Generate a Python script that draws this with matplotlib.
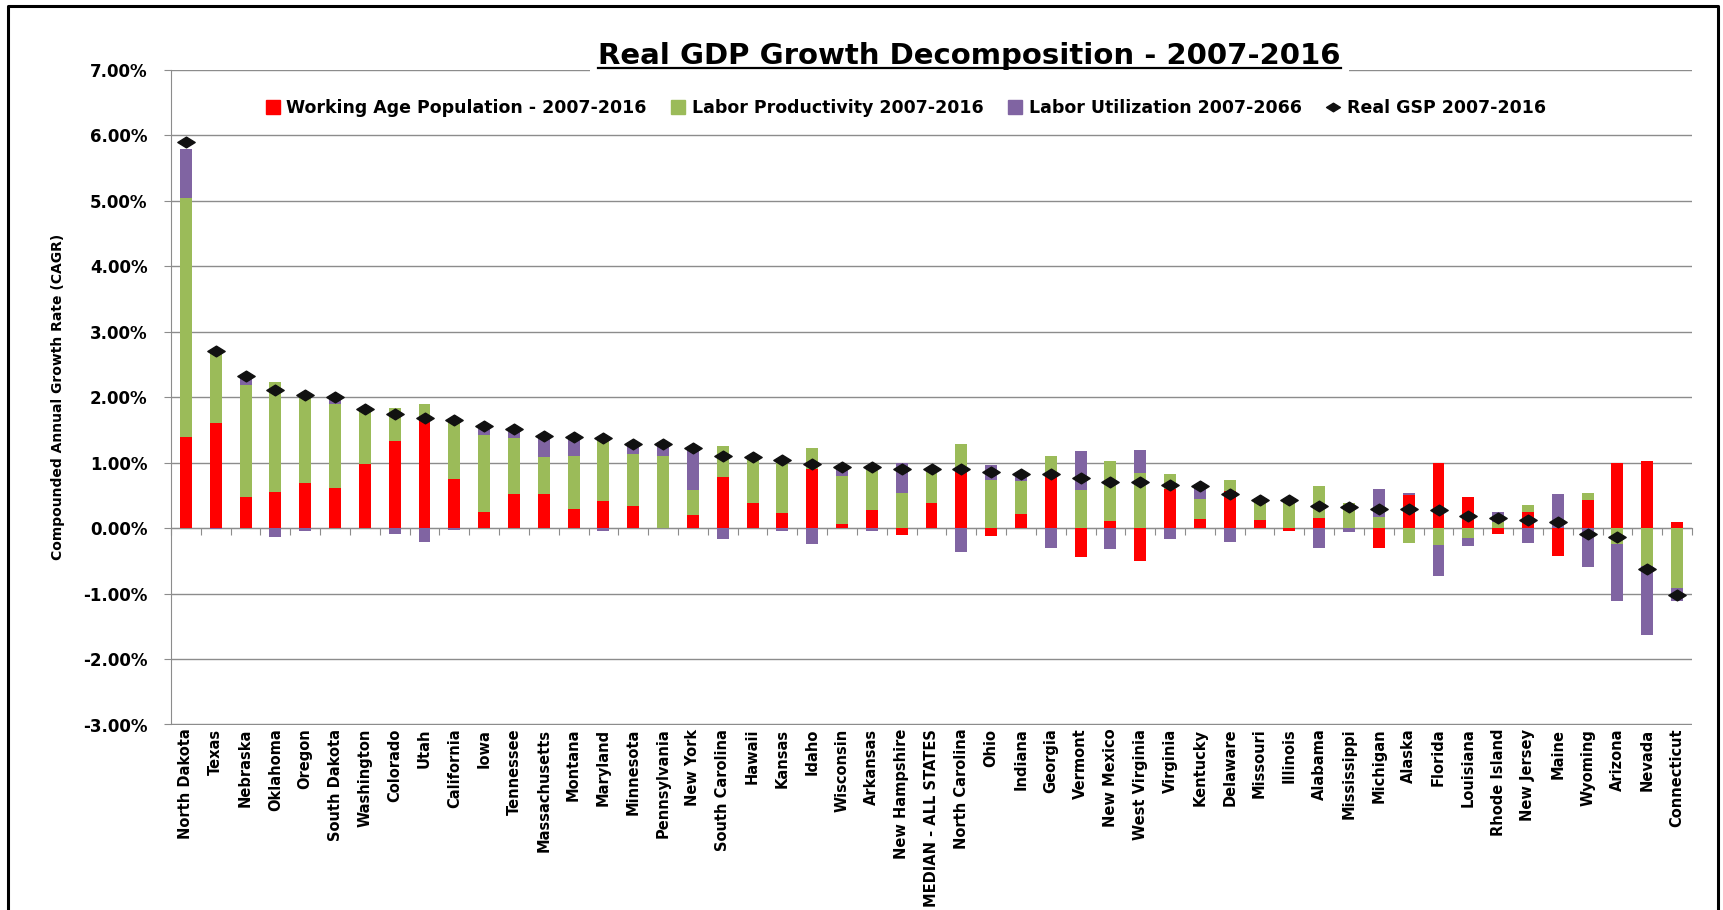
import numpy as np
import matplotlib
matplotlib.use("Agg")
import matplotlib.pyplot as plt
from matplotlib.lines import Line2D
from matplotlib.path import Path
from matplotlib.ticker import FuncFormatter

# data (percent, CAGR 2007-2016)
states = ["North Dakota", "Texas", "Nebraska", "Oklahoma", "Oregon", "South Dakota",
          "Washington", "Colorado", "Utah", "California", "Iowa", "Tennessee",
          "Massachusetts", "Montana", "Maryland", "Minnesota", "Pennsylvania",
          "New York", "South Carolina", "Hawaii", "Kansas", "Idaho", "Wisconsin",
          "Arkansas", "New Hampshire", "MEDIAN - ALL STATES", "North Carolina",
          "Ohio", "Indiana", "Georgia", "Vermont", "New Mexico", "West Virginia",
          "Virginia", "Kentucky", "Delaware", "Missouri", "Illinois", "Alabama",
          "Mississippi", "Michigan", "Alaska", "Florida", "Louisiana", "Rhode Island",
          "New Jersey", "Maine", "Wyoming", "Arizona", "Nevada", "Connecticut"]

work_pop = [1.39, 1.61, 0.47, 0.55, 0.69, 0.61, 0.98, 1.33, 1.66, 0.75, 0.25, 0.52,
            0.52, 0.30, 0.42, 0.34, 0.00, 0.20, 0.78, 0.38, 0.23, 0.90, 0.06,
            0.27, -0.11, 0.39, 0.88, -0.12, 0.22, 0.80, -0.44, 0.11, -0.50,
            0.60, 0.14, 0.56, 0.12, -0.05, 0.16, 0.00, -0.30, 0.51, 1.00, 0.48,
            -0.09, 0.24, -0.42, 0.43, 1.00, 1.03, 0.10]
labor_prod = [3.66, 1.06, 1.71, 1.69, 1.33, 1.28, 0.83, 0.50, 0.23, 0.88, 1.17, 0.85,
              0.56, 0.80, 0.92, 0.79, 1.10, 0.38, 0.48, 0.70, 0.80, 0.32, 0.74,
              0.67, 0.53, 0.50, 0.40, 0.74, 0.50, 0.31, 0.58, 0.91, 0.84,
              0.22, 0.30, 0.17, 0.31, 0.40, 0.49, 0.39, 0.17, -0.23, -0.26, -0.15,
              0.10, 0.11, 0.00, 0.10, -0.24, -0.58, -0.91]
labor_util = [0.75, -0.02, 0.13, -0.14, -0.05, 0.10, 0.00, -0.09, -0.21, -0.03, 0.10, 0.10,
              0.29, 0.27, -0.05, 0.15, 0.15, 0.61, -0.17, 0.00, -0.05, -0.24, 0.14,
              -0.05, 0.47, 0.00, -0.37, 0.23, 0.08, -0.30, 0.60, -0.32, 0.36,
              -0.16, 0.17, -0.21, 0.00, 0.05, -0.31, -0.06, 0.43, 0.03, -0.47, -0.13,
              0.15, -0.23, 0.52, -0.60, -0.87, -1.05, -0.20]
real_gsp = [5.90, 2.70, 2.33, 2.11, 2.03, 2.00, 1.82, 1.75, 1.68, 1.66, 1.56, 1.51,
            1.41, 1.39, 1.37, 1.29, 1.28, 1.22, 1.10, 1.08, 1.04, 0.98, 0.94,
            0.94, 0.91, 0.90, 0.90, 0.86, 0.83, 0.82, 0.76, 0.70, 0.70,
            0.66, 0.64, 0.52, 0.43, 0.43, 0.34, 0.33, 0.30, 0.30, 0.28, 0.19,
            0.15, 0.12, 0.09, -0.09, -0.13, -0.62, -1.02]

series_names = ["Working Age Population - 2007-2016", "Labor Productivity 2007-2016",
                "Labor Utilization 2007-2066", "Real GSP 2007-2016"]
colors = ["#FF0000", "#9BBB59", "#8064A2"]
grey = "#8c8c8c"

plt.rcParams["font.family"] = ["DejaVu Sans"]
plt.rcParams["font.weight"] = "bold"

W, H = 1723, 910
fig = plt.figure(figsize=(W / 100, H / 100), dpi=100)
ax = fig.add_axes([171 / W, 1 - 724.5 / H, (1692 - 171) / W, (724.5 - 70) / H])

x = np.arange(len(states))
pos = np.zeros(len(states))
neg = np.zeros(len(states))
for vals, col in zip([work_pop, labor_prod, labor_util], colors):
    v = np.array(vals)
    bottom = np.where(v >= 0, pos, neg)
    ax.bar(x, v, width=0.4, bottom=bottom, color=col, linewidth=0, zorder=2)
    pos += np.where(v >= 0, v, 0)
    neg += np.where(v < 0, v, 0)

diamond = Path([(-1, 0), (0, 0.62), (1, 0), (0, -0.62), (-1, 0)],
               [Path.MOVETO, Path.LINETO, Path.LINETO, Path.LINETO, Path.CLOSEPOLY])
ax.plot(x, real_gsp, ls="none", marker=diamond, ms=12.5, color="#111111", zorder=5)

ax.set_xlim(-0.5, len(states) - 0.5)
ax.set_ylim(-3, 7)
ax.set_yticks(np.arange(-3, 8, 1))
ax.yaxis.set_major_formatter(FuncFormatter(lambda v, p: "%.2f%%" % v))
ax.grid(axis="y", color=grey, lw=1)
ax.set_axisbelow(True)
for s in ["top", "right", "bottom"]:
    ax.spines[s].set_visible(False)
ax.spines["left"].set_color(grey)
ax.tick_params(axis="y", length=5, color=grey, pad=12, labelsize=12)
ax.set_xticks(x)
ax.set_xticklabels(states, rotation=90, fontweight="bold")
ax.tick_params(axis="x", length=0, pad=3, labelsize=10.5)

# category axis crossing at zero
sec = ax.secondary_xaxis(0.3)
sec.set_xticks(np.arange(-0.5, len(states), 1))
sec.tick_params(length=5, color=grey, labelbottom=False, labeltop=False)
sec.spines["bottom"].set_color(grey)

handles = [Line2D([], [], ls="none", marker="s", ms=10, color=c) for c in colors]
handles.append(Line2D([], [], ls="none", marker=diamond, ms=10, color="#111111"))
ax.legend(handles, series_names, loc="center", bbox_to_anchor=(0.483, 0.942),
          ncol=4, frameon=False, fontsize=12.5, handlelength=0.8,
          handletextpad=0.4, columnspacing=1.4)

fig.text(58 / W, 1 - 397 / H, "Compounded Annual Growth Rate (CAGR)", rotation=90,
         ha="center", va="center", fontsize=10, fontweight="bold")

title = fig.text(969.5 / W, 1 - 64 / H, "Real GDP Growth Decomposition - 2007-2016",
                 ha="center", va="baseline", fontsize=21, fontweight="bold",
                 bbox=dict(facecolor="white", edgecolor="none", pad=6))
fig.canvas.draw()
bb = title.get_window_extent()
fig.add_artist(Line2D([bb.x0 / W, bb.x1 / W], [1 - 68 / H, 1 - 68 / H],
                      transform=fig.transFigure, color="black", lw=1.6, zorder=10))

# outer border
fig.add_artist(Line2D([8 / W, 8 / W, 1718 / W, 1718 / W], [0, 1 - 6 / H, 1 - 6 / H, 0],
                      transform=fig.transFigure, color="black", lw=2.2, zorder=10))

fig.savefig("out.png", dpi=100)
